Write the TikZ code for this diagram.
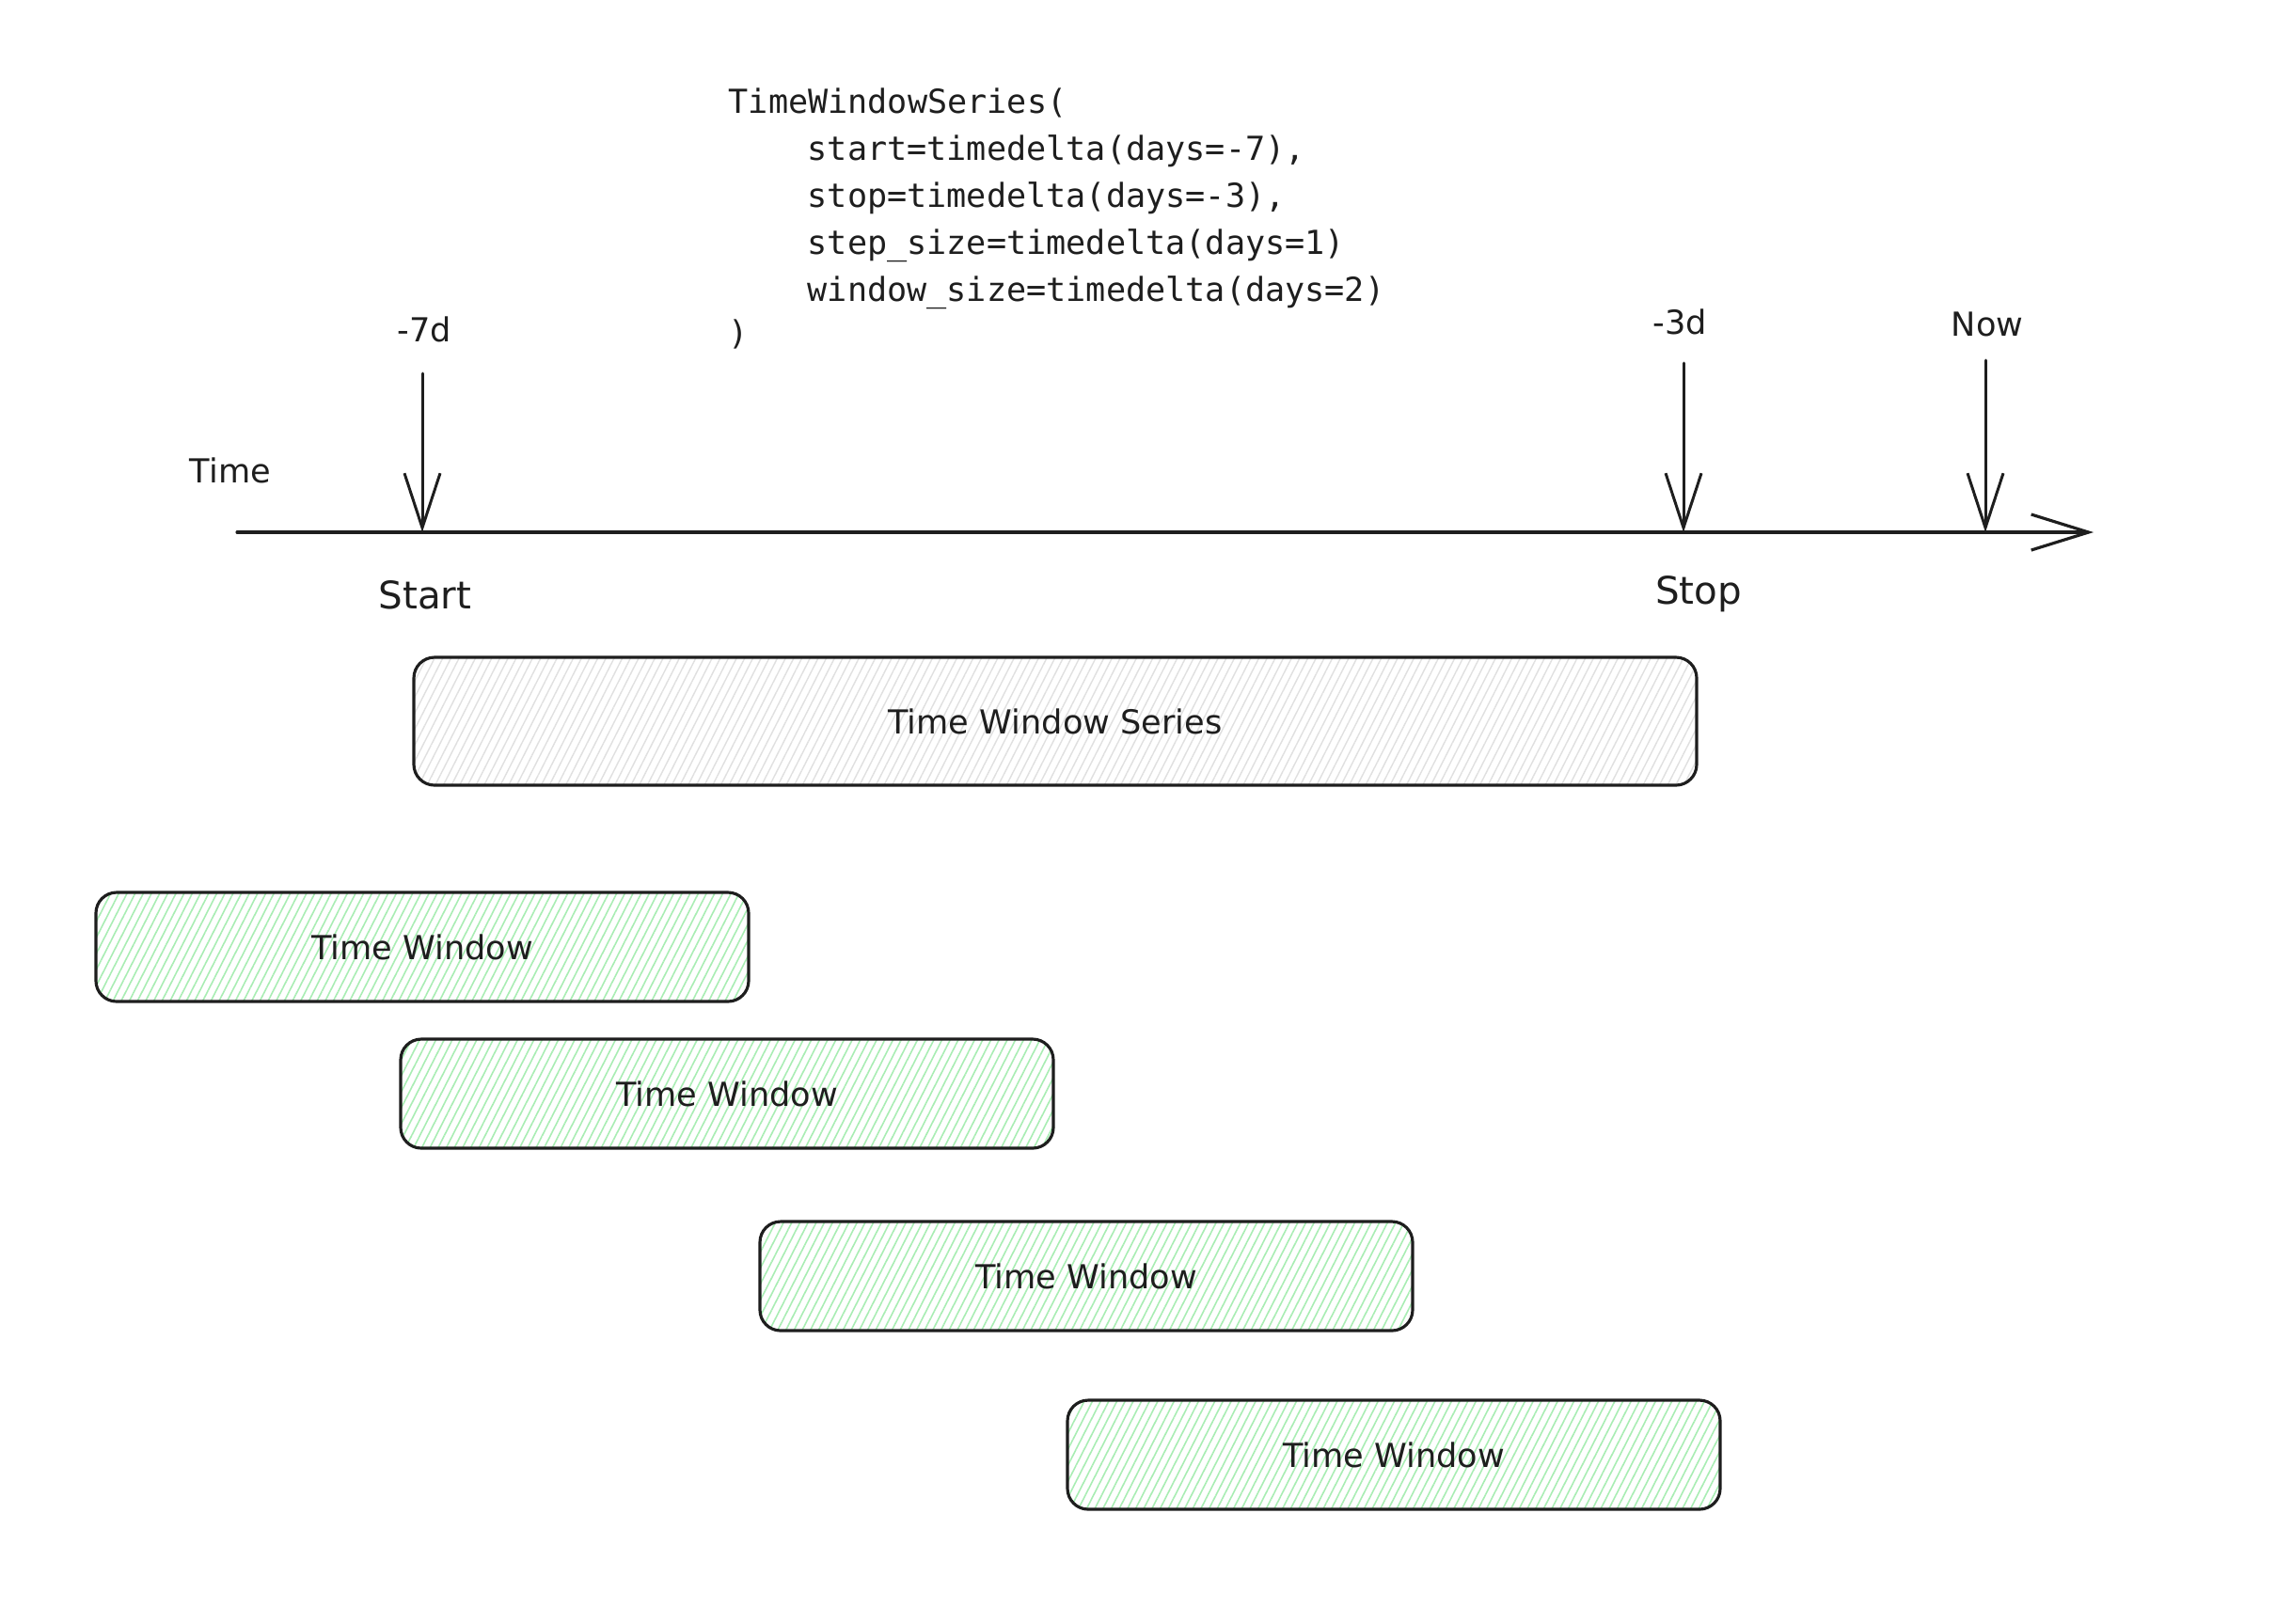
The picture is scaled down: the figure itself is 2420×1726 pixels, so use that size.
\documentclass[tikz,border=0pt]{standalone}
\usepackage{fontspec}
\setmainfont{DejaVu Sans}
\newfontfamily\codefont{DejaVu Sans Mono}
\usetikzlibrary{arrows.meta,patterns.meta}
\definecolor{ink}{HTML}{1E1E1E}
\definecolor{hatchgreen}{HTML}{A8EDB3}
\definecolor{hatchgray}{HTML}{E0E0E0}
\begin{document}
\begin{tikzpicture}[x=0.1mm,y=-0.1mm,
  lbl/.style={font=\fontsize{10}{12}\selectfont, text=ink, inner sep=0pt, anchor=base},
  lblbig/.style={lbl, font=\fontsize{11.5}{13}\selectfont},
  codeline/.style={font=\codefont\fontsize{10}{12}\selectfont, text=ink, inner sep=0pt, anchor=base west},
  tick/.style={draw=ink, line width=0.85pt, line cap=round, line join=round,
    -{Straight Barb[length=5.8mm,width=3.8mm]}},
  boxbase/.style={draw=ink, line width=0.9pt, rounded corners=2.2mm, inner sep=0pt,
    font=\fontsize{10}{12}\selectfont, text=ink},
  winbox/.style={boxbase, minimum width=69.4mm, minimum height=11.6mm,
    pattern={Lines[angle=63,distance=2.2pt,line width=0.45pt]}, pattern color=hatchgreen},
  seriesbox/.style={boxbase, minimum width=136.4mm, minimum height=13.6mm,
    pattern={Lines[angle=63,distance=2.2pt,line width=0.4pt]}, pattern color=hatchgray},
]
\fill[white] (0,0) rectangle (2420,1726);
\useasboundingbox (0,0) rectangle (2420,1726);

% code text
\node[codeline] (code1) at (774,120) {TimeWindowSeries(};
\node[codeline] (code2) at (858,170) {start=timedelta(days=-7),};
\node[codeline] (code3) at (858,220) {stop=timedelta(days=-3),};
\node[codeline] (code4) at (858,270) {step\_size=timedelta(days=1)};
\node[codeline] (code5) at (858,320) {window\_size=timedelta(days=2)};
\node[codeline] (code6) at (774,366) {)};

% labels
\node[lbl] (lblTime) at (245,513) {Time};
\node[lbl] (lblm7) at (451,363) {-7d};
\node[lblbig] (lblStart) at (452,647) {Start};
\node[lbl] (lblm3) at (1786,355) {-3d};
\node[lblbig] (lblStop) at (1806,642) {Stop};
\node[lbl] (lblNow) at (2113,357) {Now};

% axis
\coordinate (axisL) at (252,566);
\coordinate (axisR) at (2226,566);
\draw[draw=ink, line width=0.9pt, line cap=round, -{Straight Barb[length=6.1mm,width=3.8mm]}] (axisL) -- (axisR);

% ticks
\coordinate (s0) at (449,397);
\coordinate (s1) at (449,566);
\coordinate (t0) at (1790,386);
\coordinate (t1) at (1790,566);
\coordinate (n0) at (2111,383);
\coordinate (n1) at (2111,566);
\draw[tick] (s0) -- (s1);
\draw[tick] (t0) -- (t1);
\draw[tick] (n0) -- (n1);

% boxes
\node[seriesbox] (series) at (1122,767) {Time Window Series};
\node[winbox] (win1) at (449,1007) {Time Window};
\node[winbox] (win2) at (773,1163) {Time Window};
\node[winbox] (win3) at (1155,1357) {Time Window};
\node[winbox] (win4) at (1482,1547) {Time Window};
\end{tikzpicture}
\end{document}
